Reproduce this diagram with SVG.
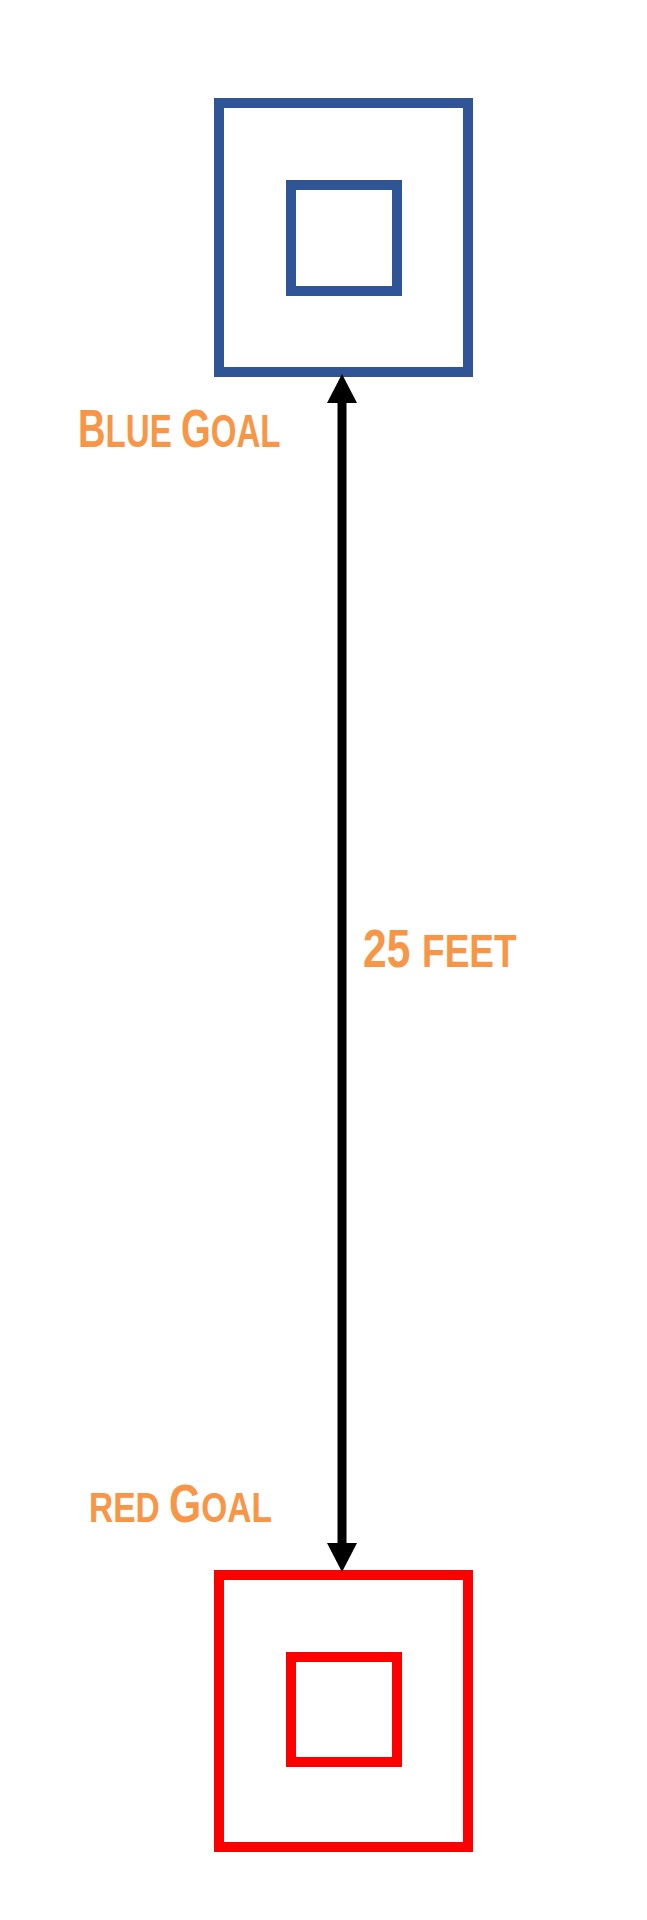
<svg xmlns="http://www.w3.org/2000/svg" width="647" height="1920" viewBox="0 0 647 1920">
  <style>
    .goal { fill: none; stroke-width: 10; }
    .blue { stroke: #2F5597; }
    .red { stroke: #FF0000; }
    .lbl { font-family: "Liberation Sans", Arial, sans-serif; font-weight: bold; fill: #F79646; }
    .conn { stroke: #000000; stroke-width: 9; fill: none; }
  </style>
  <defs>
    <marker id="arrow" markerUnits="userSpaceOnUse" viewBox="0 0 29 30" markerWidth="29" markerHeight="30" refX="0" refY="15" orient="auto-start-reverse">
      <path d="M0,0 L29,15 L0,30 z" fill="#000000"/>
    </marker>
  </defs>
  <rect width="647" height="1920" fill="#FFFFFF"/>
  <g id="blue-goal">
    <rect class="goal blue" x="219" y="103" width="249" height="269"/>
    <rect class="goal blue" x="291" y="185" width="106" height="106"/>
    <text class="lbl" transform="translate(78,447) scale(0.72,1)"><tspan font-size="53">B</tspan><tspan font-size="46">LUE </tspan><tspan font-size="53">G</tspan><tspan font-size="46">OAL</tspan></text>
  </g>
  <g id="red-goal">
    <rect class="goal red" x="219" y="1575" width="249" height="272"/>
    <rect class="goal red" x="291" y="1657" width="106" height="105"/>
    <text class="lbl" transform="translate(89,1522) scale(0.78,1)"><tspan font-size="43">RED </tspan><tspan font-size="53">G</tspan><tspan font-size="43">OAL</tspan></text>
  </g>
  <g id="connectors">
    <line class="conn" x1="342" y1="403" x2="342" y2="1543" marker-start="url(#arrow)" marker-end="url(#arrow)"/>
    <text class="lbl" transform="translate(363,967) scale(0.787,1)"><tspan font-size="54">25 </tspan><tspan font-size="47">FEET</tspan></text>
  </g>
</svg>
